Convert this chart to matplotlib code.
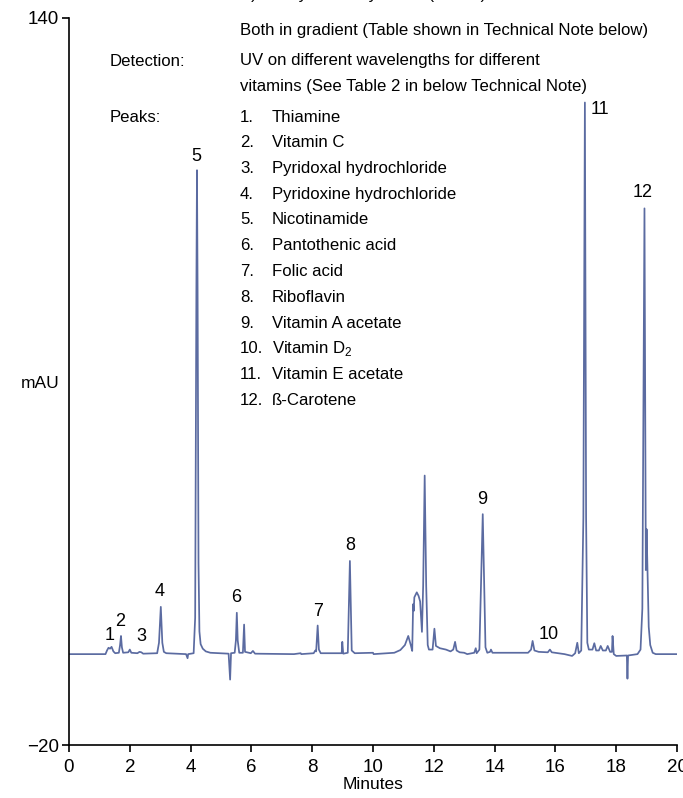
import matplotlib
matplotlib.use("Agg")
import matplotlib.pyplot as plt

plt.rcParams['font.family'] = ['Liberation Sans', 'DejaVu Sans']
plt.rcParams['mathtext.fontset'] = 'custom'
plt.rcParams['mathtext.rm'] = 'Liberation Sans'

# chromatogram trace (minutes, mAU)
time_min = [0.00, 1.20, 1.25, 1.30, 1.35, 1.40, 1.46, 1.52, 1.64, 1.68, 1.71, 1.74, 1.78,
            1.95, 2.00, 2.05, 2.25, 2.32, 2.38, 2.44, 2.90, 2.96, 3.02, 3.07, 3.12, 3.20,
            3.85, 3.90, 3.92, 4.10, 4.15, 4.19, 4.21, 4.23, 4.26, 4.29, 4.33, 4.40, 4.50,
            4.65, 5.25, 5.30, 5.33, 5.45, 5.49, 5.52, 5.55, 5.60, 5.72, 5.76, 5.79, 5.98,
            6.05, 6.12, 7.40, 7.62, 7.64, 8.05, 8.10, 8.13, 8.18, 8.22, 8.28, 8.97, 8.99,
            9.02, 9.17, 9.24, 9.30, 9.40, 10.00, 10.02, 10.70, 10.90, 11.05, 11.16, 11.25,
            11.29, 11.32, 11.34, 11.36, 11.44, 11.50, 11.55, 11.61, 11.65, 11.70, 11.75,
            11.80, 11.84, 11.96, 12.02, 12.07, 12.20, 12.40, 12.55, 12.64, 12.70, 12.75,
            12.85, 13.00, 13.10, 13.33, 13.38, 13.41, 13.50, 13.61, 13.70, 13.76, 13.85,
            13.88, 13.93, 14.30, 15.10, 15.20, 15.25, 15.31, 15.45, 15.75, 15.82, 15.88,
            16.30, 16.55, 16.65, 16.72, 16.77, 16.85, 16.92, 16.97, 17.01, 17.05, 17.10,
            17.22, 17.28, 17.34, 17.43, 17.49, 17.56, 17.66, 17.72, 17.80, 17.86, 17.88,
            17.92, 18.00, 18.35, 18.37, 18.39, 18.70, 18.80, 18.86, 18.90, 18.93, 18.95,
            18.975, 19.00, 19.03, 19.07, 19.12, 19.20, 19.30, 20.00]
mau = [0.0, 0.0, 0.8, 1.4, 1.2, 1.6, 0.6, 0.2, 0.3, 2.0, 4.0, 1.5, 0.3,
       0.4, 1.0, 0.3, 0.2, 0.5, 0.4, 0.1, 0.2, 2.5, 10.4, 2.5, 0.5, 0.2,
       0.0, -0.9, 0.0, 0.2, 8.0, 80.0, 106.5, 80.0, 20.0, 5.0, 2.2, 1.2, 0.6,
       0.3, 0.1, -5.6, 0.2, 0.3, 3.0, 9.1, 3.0, 0.3, 0.3, 6.5, 0.5, 0.2,
       0.7, 0.1, 0.0, 0.2, 0.0, 0.2, 0.8, 0.6, 6.3, 1.0, 0.2, 0.2, 2.7,
       0.1, 0.3, 20.5, 0.8, 0.2, 0.3, 0.0, 0.3, 0.9, 2.0, 4.0, 1.8,
       0.7, 11.0, 9.5, 12.5, 13.6, 12.8, 11.6, 4.9, 15.0, 39.3, 15.0,
       2.0, 1.0, 1.0, 5.6, 1.8, 1.3, 1.0, 0.6, 1.0, 2.7, 0.8,
       0.4, 0.3, 0.0, 0.3, 1.3, 0.2, 1.0, 30.8, 1.5, 0.3, 0.5,
       1.0, 0.3, 0.3, 0.3, 1.0, 2.9, 0.8, 0.5, 0.4, 1.0, 0.4,
       0.0, -0.4, 0.2, 2.5, 0.2, 0.8, 30.0, 121.4, 30.0, 2.5, 1.0,
       1.0, 2.4, 0.8, 0.8, 1.8, 0.8, 0.8, 1.8, 0.5, 0.5, 4.0,
       0.0, -0.4, -0.3, -5.4, -0.3, 0.0, 1.0, 10.0, 60.0, 98.1, 60.0,
       18.5, 27.5, 18.0, 6.0, 2.0, 0.3, 0.0, 0.0]

# peak numbers and where their labels sit (minutes, mAU)
peak_ids = ['1', '2', '3', '4', '5', '6', '7', '8', '9', '10', '11', '12']
label_t = [1.35, 1.68, 2.37, 2.99, 4.18, 5.49, 8.19, 9.24, 13.59, 15.79, 17.47, 18.88]
label_v = [4.2, 7.1, 3.8, 13.7, 109.6, 12.4, 9.3, 24.0, 34.1, 4.4, 119.8, 101.5]

peak_names = ['Thiamine', 'Vitamin C', 'Pyridoxal hydrochloride', 'Pyridoxine hydrochloride',
              'Nicotinamide', 'Pantothenic acid', 'Folic acid', 'Riboflavin',
              'Vitamin A acetate', r'Vitamin D$_\mathregular{2}$', 'Vitamin E acetate',
              'ß-Carotene']

W, H = 683, 798
fig = plt.figure(figsize=(W / 100, H / 100), dpi=100)
ax = fig.add_axes([69 / W, 53 / H, 608 / W, 727 / H])

ax.plot(time_min, mau, color='#5b6ba1', lw=1.25)

for pid, t, v in zip(peak_ids, label_t, label_v):
    ax.text(t, v, pid, ha='center', va='center', fontsize=13)

ax.set_xlim(0, 20)
ax.set_ylim(-20, 140)
ax.set_xticks(range(0, 21, 2))
ax.set_yticks([-20, 140])
ax.spines['top'].set_visible(False)
ax.spines['right'].set_visible(False)
ax.spines['left'].set_linewidth(1.2)
ax.spines['bottom'].set_linewidth(1.2)
ax.tick_params(labelsize=13.5, length=5, width=1.2)
ax.tick_params(axis='x', pad=5)
ax.tick_params(axis='y', pad=2)
ax.set_xlabel('Minutes', fontsize=12.5, labelpad=1)
fig.text(40 / W, 1 - 383 / H, 'mAU', ha='center', va='center', fontsize=12.5)

fs = 12.1
def put(x, y, s):
    fig.text(x / W, 1 - y / H, s, ha='left', va='center', fontsize=fs)

put(240, -6, 'B) Methyl tert-butyl ether (MTBE)')
put(240, 30, 'Both in gradient (Table shown in Technical Note below)')
put(110, 61, 'Detection:')
put(240, 61, 'UV on different wavelengths for different')
put(240, 86, 'vitamins (See Table 2 in below Technical Note)')
put(110, 117, 'Peaks:')
for i, name in enumerate(peak_names):
    y = 117 + i * 25.75
    put(240, y, f'{i + 1}.')
    put(272, y, name)

fig.savefig('out.png', dpi=100)
